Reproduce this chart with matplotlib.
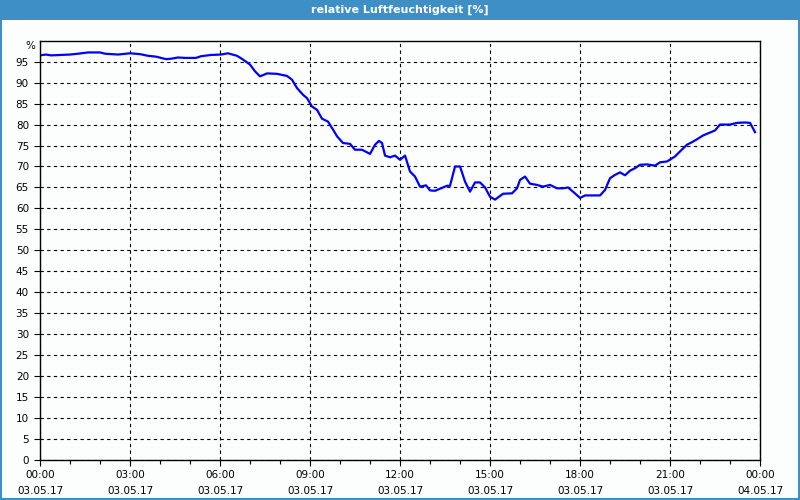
import matplotlib.pyplot as plt
from matplotlib.patches import Rectangle
from matplotlib.ticker import MultipleLocator

# minutes since 00:00 on 03.05.17 and relative humidity in %
minutes = [0, 12, 22, 60, 76, 96, 120, 130, 156, 180, 200, 216, 232, 252, 262,
           276, 290, 312, 322, 342, 362, 376, 394, 406, 420, 430, 440, 454, 474,
           494, 504, 514, 526, 534, 544, 554, 564, 576, 586, 594, 606, 620, 630,
           644, 660, 670, 678, 684, 690, 700, 710, 720, 730, 740, 750, 760, 772,
           780, 790, 800, 814, 820, 830, 840, 850, 860, 870, 880, 890, 900, 910,
           926, 944, 954, 960, 970, 980, 994, 1006, 1020, 1034, 1046, 1056, 1066,
           1080, 1090, 1120, 1130, 1140, 1150, 1160, 1170, 1180, 1190, 1200, 1214,
           1230, 1240, 1254, 1270, 1280, 1294, 1304, 1314, 1326, 1340, 1350, 1360,
           1380, 1394, 1410, 1420, 1430]
humidity = [96.5, 96.7, 96.5, 96.7, 96.9, 97.2, 97.2, 96.9, 96.7, 97.0, 96.8,
            96.4, 96.2, 95.6, 95.7, 96.0, 95.9, 95.9, 96.3, 96.6, 96.7, 97.0,
            96.4, 95.5, 94.3, 92.7, 91.5, 92.2, 92.1, 91.6, 90.7, 88.7, 87.1,
            86.3, 84.3, 83.5, 81.4, 80.7, 78.8, 77.2, 75.6, 75.4, 74.0, 74.0,
            73.0, 75.2, 76.1, 75.6, 72.6, 72.2, 72.6, 71.6, 72.6, 68.8, 67.6,
            65.2, 65.5, 64.3, 64.2, 64.7, 65.4, 65.4, 70.0, 70.0, 66.4, 64.0,
            66.2, 66.2, 65.0, 62.8, 62.1, 63.5, 63.6, 64.8, 66.8, 67.6, 65.9,
            65.6, 65.2, 65.6, 64.8, 64.8, 65.0, 64.0, 62.5, 63.1, 63.1, 64.4,
            67.2, 68.0, 68.6, 67.9, 69.0, 69.6, 70.4, 70.5, 70.2, 71.0, 71.2,
            72.4, 73.6, 75.2, 75.8, 76.5, 77.4, 78.1, 78.6, 80.0, 80.0, 80.4,
            80.5, 80.4, 78.2]

x_labels = ['00:00\n03.05.17', '03:00\n03.05.17', '06:00\n03.05.17',
            '09:00\n03.05.17', '12:00\n03.05.17', '15:00\n03.05.17',
            '18:00\n03.05.17', '21:00\n03.05.17', '00:00\n04.05.17']
y_ticks = list(range(0, 100, 5))

title = 'relative Luftfeuchtigkeit [%]'
blue = '#3d8fc6'

plt.rcParams['font.family'] = ['DejaVu Sans']
fig = plt.figure(figsize=(8, 5), dpi=100, facecolor='#fcfefd')

# title bar and frame
fig.patches.append(Rectangle((0, 0.96), 1, 0.04, transform=fig.transFigure,
                             facecolor=blue, edgecolor='none', zorder=0))
fig.patches.append(Rectangle((0.001, 0.002), 0.998, 0.996, transform=fig.transFigure,
                             facecolor='none', edgecolor=blue, lw=1.5, zorder=0))
fig.text(0.5, 0.98, title, color='white', fontsize=8, fontweight='bold',
         ha='center', va='center')

ax = fig.add_axes([0.05, 0.08, 0.90, 0.8386])
ax.set_facecolor('#fcfefd')
ax.plot(minutes, humidity, color='#0000ff', lw=1.6)

ax.set_xlim(0, 1440)
ax.set_ylim(0, 100)
ax.set_xticks(range(0, 1441, 180))
ax.set_xticklabels(x_labels, fontsize=7.5, linespacing=1.75)
ax.xaxis.set_minor_locator(MultipleLocator(60))
ax.set_yticks(y_ticks)
ax.set_yticklabels([str(v) for v in y_ticks], fontsize=7.5)
ax.text(-0.007, 1.0 - 0.012, '%', transform=ax.transAxes, fontsize=7.5,
        ha='right', va='center')

ax.tick_params(axis='both', which='major', length=4, width=0.8, color='black',
               pad=4)
ax.tick_params(axis='x', which='minor', length=3, width=0.8)
ax.tick_params(axis='x', pad=3)
ax.grid(True, which='major', color='black', linestyle=(0, (3, 3)), lw=0.8)
for s in ax.spines.values():
    s.set_color('black')
    s.set_linewidth(1.0)

fig.savefig('out.png', dpi=100, facecolor=fig.get_facecolor())
